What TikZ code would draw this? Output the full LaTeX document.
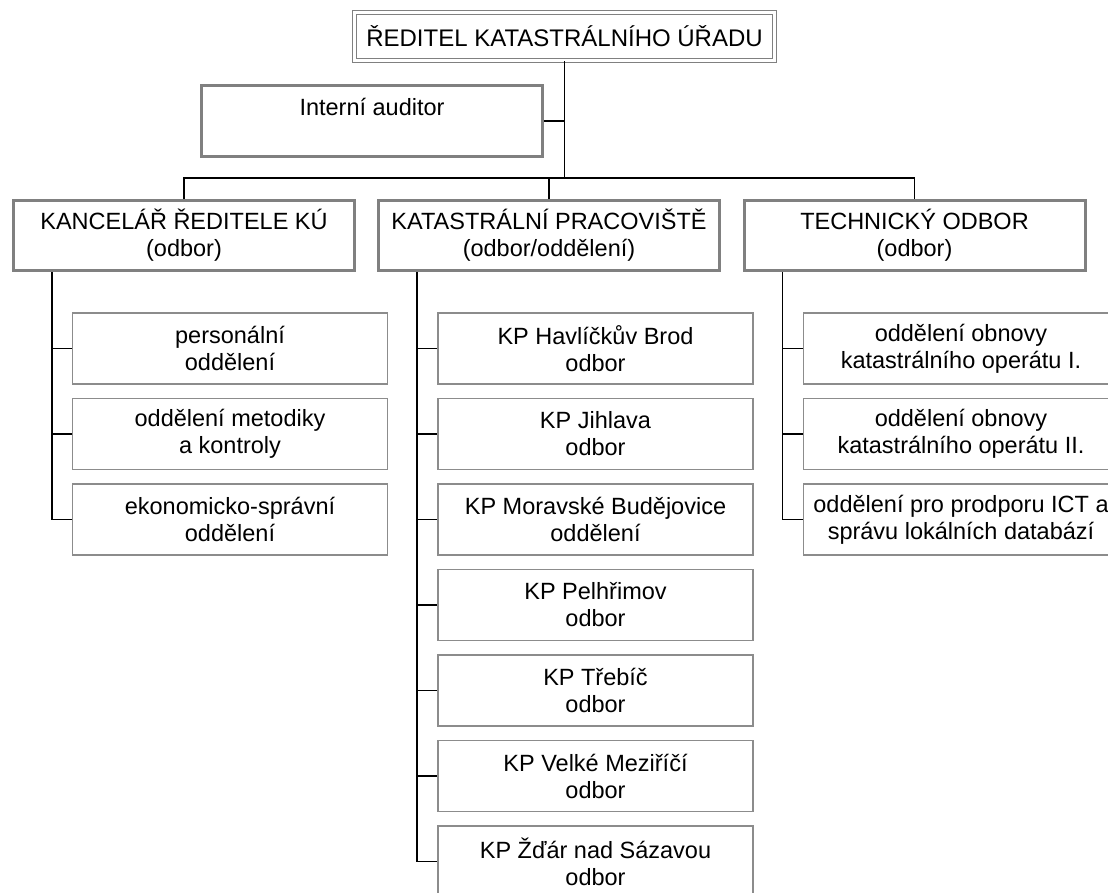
\documentclass[tikz,border=0pt]{standalone}
\usepackage{fontspec}
\setmainfont{Liberation Sans}
\usetikzlibrary{positioning}

\tikzset{
  chief/.style={draw=black!50, line width=1.2pt, double, double distance=2.5pt, inner sep=0pt,
    minimum width=420pt, minimum height=48pt, font=\fontsize{24}{27}\selectfont},
  headbox/.style={draw=black!50, line width=3pt, inner sep=0pt, align=center,
    minimum width=341pt, minimum height=70pt, font=\fontsize{23.5}{27}\selectfont},
  unitbox/.style={draw=black!45, line width=1.3pt, inner sep=0pt, align=center,
    minimum width=315pt, minimum height=71pt, font=\fontsize{23.5}{27}\selectfont},
  link/.style={draw=black, line width=1.5pt}
}

\begin{document}
\begin{tikzpicture}[x=1pt,y=-1pt]
    \useasboundingbox (0,0) rectangle (1108,892);
    \clip (0,0) rectangle (1108,892);
    % Director and auditor
    \node[chief] (dir) at (564.5,36.5) {ŘEDITEL KATASTRÁLNÍHO ÚŘADU};
    \node[headbox, minimum height=0pt, text height=29.5pt, text depth=41.5pt] (audit) at (372,121) {Interní auditor};
    \coordinate (bus) at (0,178);
    % Departments
    \node[headbox] (kanc) at (184,235.5) {KANCELÁŘ ŘEDITELE KÚ\\(odbor)};
    \node[headbox] (kp) at (549,235.5) {KATASTRÁLNÍ PRACOVIŠTĚ\\(odbor/oddělení)};
    \node[headbox] (tech) at (914.5,235.5) {TECHNICKÝ ODBOR\\(odbor)};
    \draw[link] (dir.south) -- (dir.south |- bus);
    \draw[link] (audit.east) -- (audit.east -| dir.south);
    \draw[link] (kanc.north) -- (kanc.north |- bus) -- (tech.north |- bus) -- (tech.north);
    \draw[link] (kp.north) -- (kp.north |- bus);
    % Units: {text} per department
    \foreach \u [count=\i] in {{personální\\oddělení}, {oddělení metodiky\\a kontroly}, {ekonomicko-správní\\oddělení}}
      \node[unitbox] (kanc\i) at (230,348.5+85.5*\i-85.5) {\u};
    \foreach \u [count=\i] in {{KP Havlíčkův Brod\\odbor}, {KP Jihlava\\odbor}, {KP Moravské Budějovice\\oddělení},
        {KP Pelhřimov\\odbor}, {KP Třebíč\\odbor}, {KP Velké Meziříčí\\odbor}, {KP Žďár nad Sázavou\\odbor}}
      \node[unitbox] (kp\i) at (595.5,348.5+85.5*\i-85.5) {\u};
    \foreach \u [count=\i] in {{oddělení obnovy\\katastrálního operátu I.}, {oddělení obnovy\\katastrálního operátu II.},
        {oddělení pro prodporu ICT a\\správu lokálních databází}}
      \node[unitbox] (tech\i) at (961,348.5+85.5*\i-85.5) {\u};
    % Spines
    \foreach \d/\n in {kanc/3, kp/7, tech/3}{
      \coordinate (\d s) at ([xshift=40pt]\d.south west);
      \draw[link] (\d s) -- (\d s |- \d\n.west);
      \foreach \i in {1,...,\n}
        \draw[link] (\d s |- \d\i.west) -- (\d\i.west);
    }
\end{tikzpicture}
\end{document}
